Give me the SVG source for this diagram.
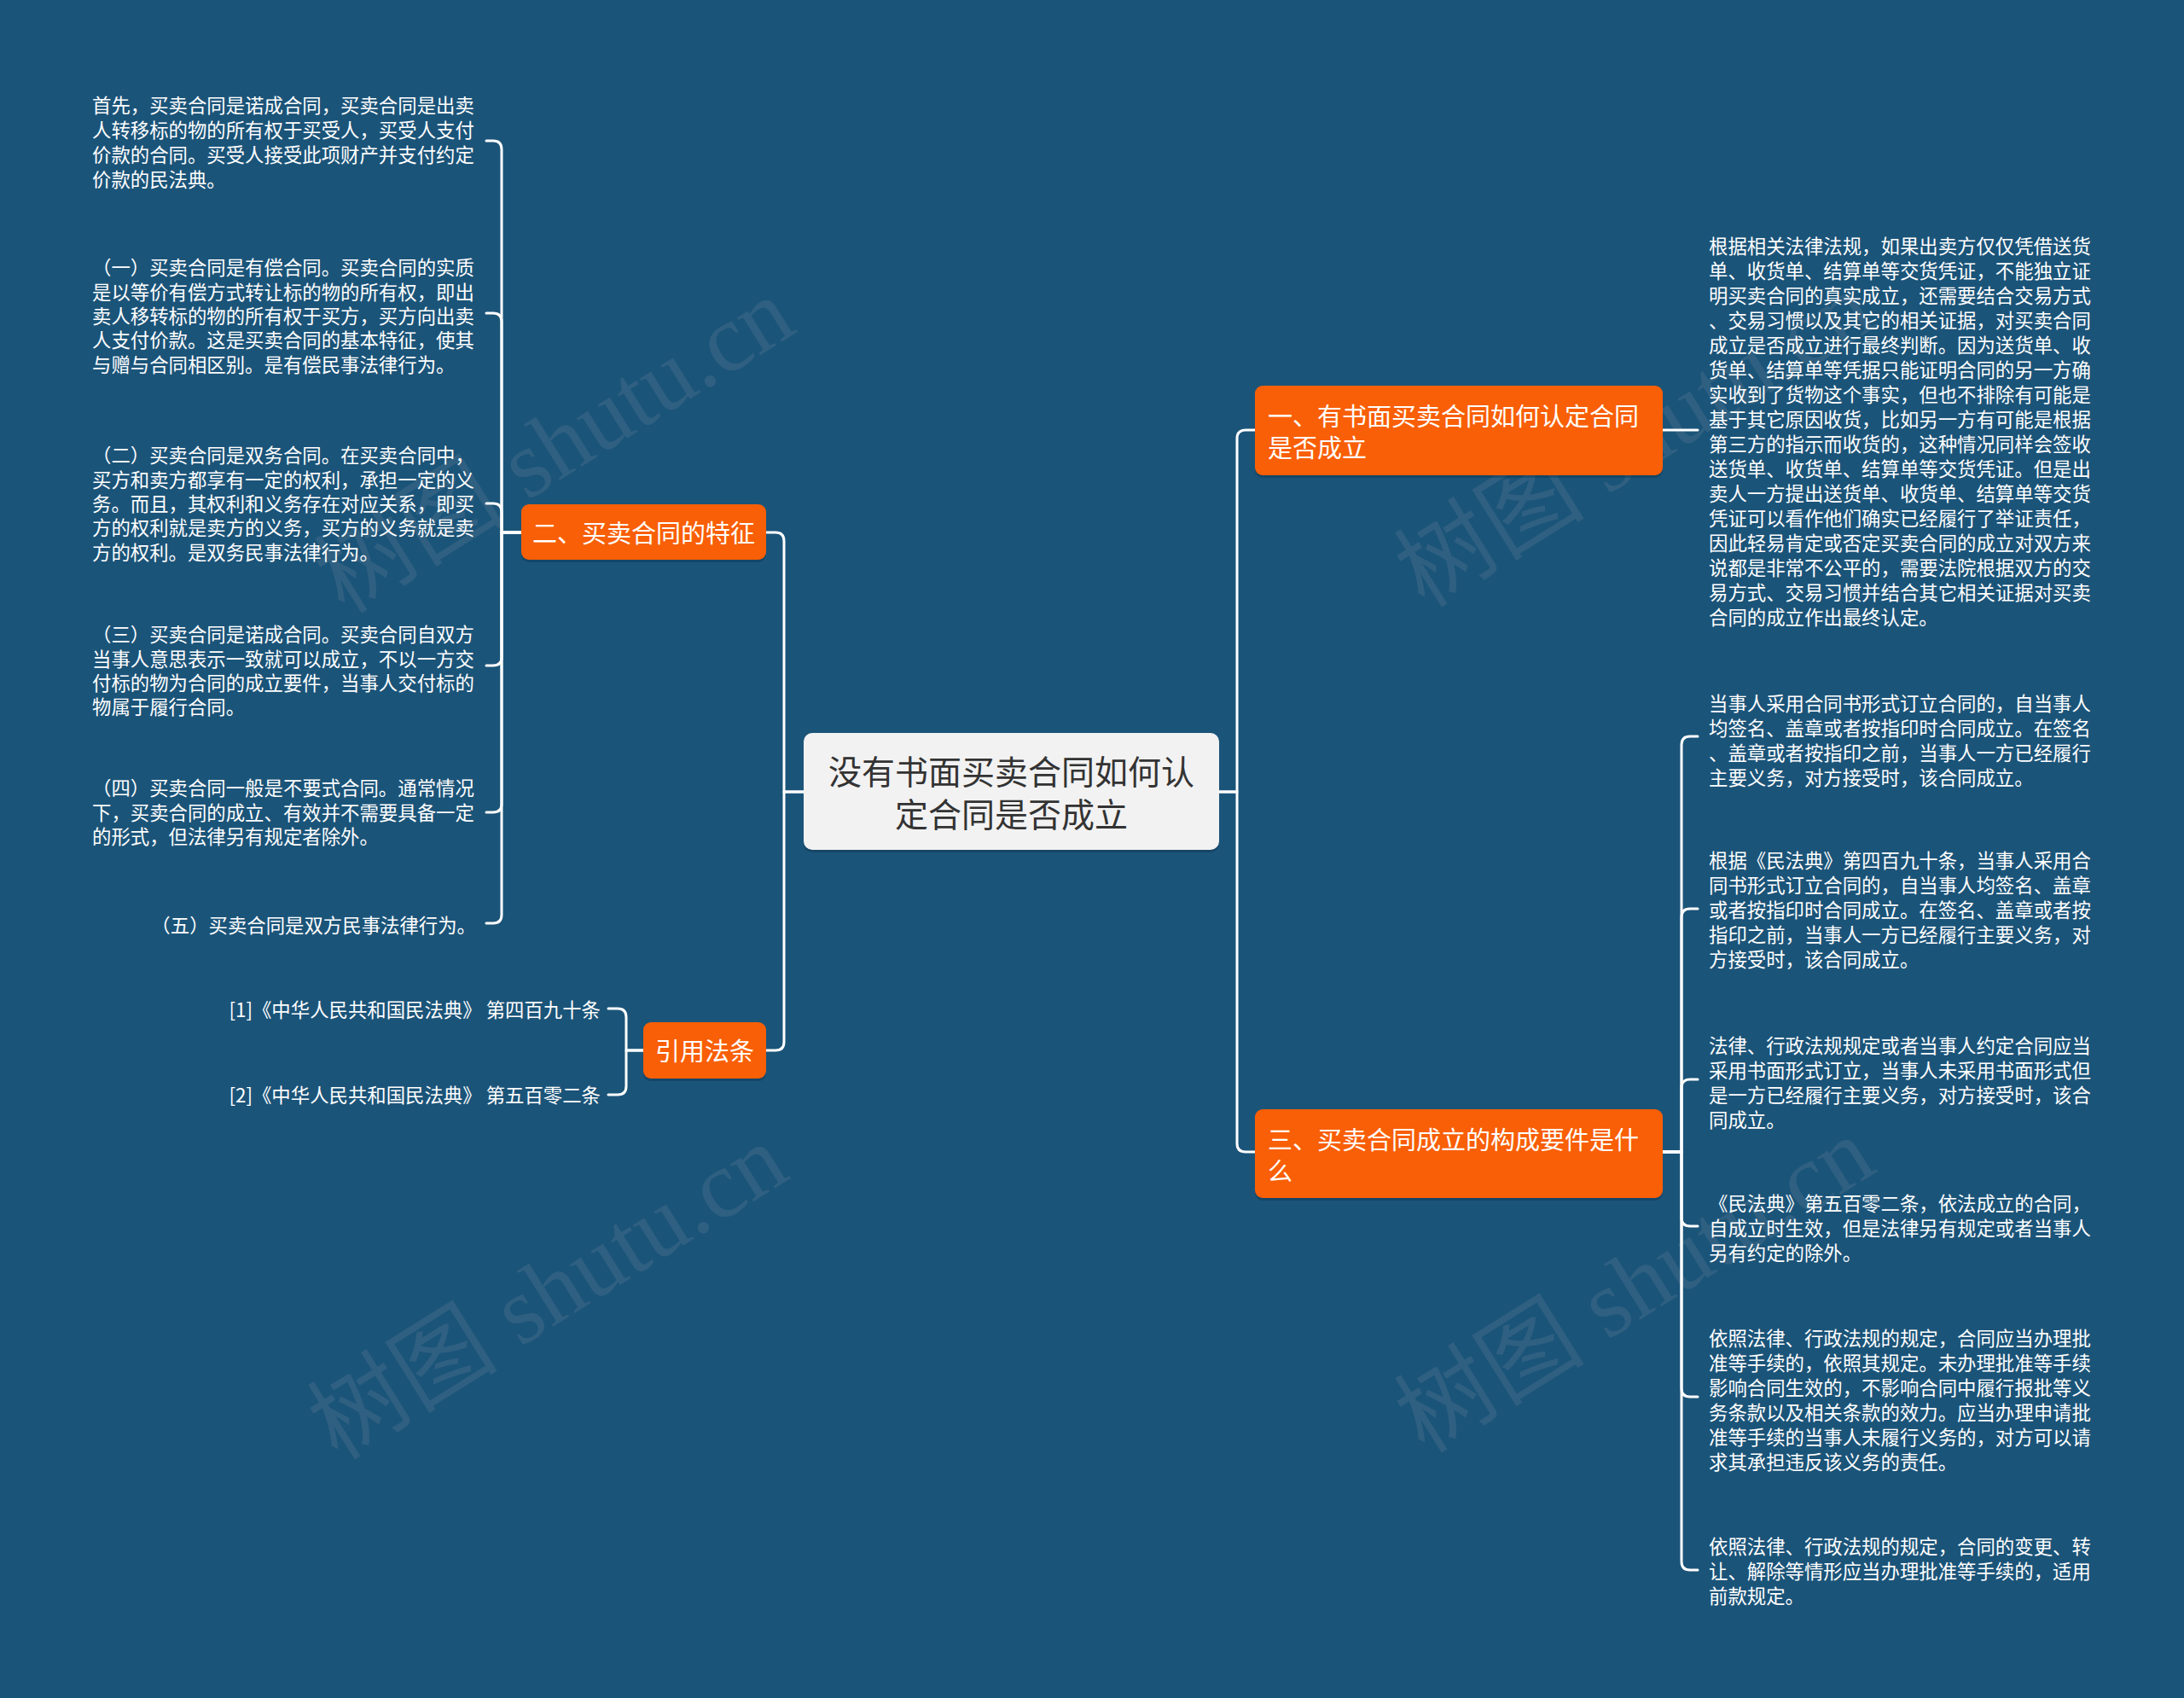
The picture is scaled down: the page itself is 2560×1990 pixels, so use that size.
<svg xmlns="http://www.w3.org/2000/svg" width="2560" height="1990" viewBox="0 0 2560 1990">
<defs>
<style>
.bg{fill:#1b5479}
.con{fill:none;stroke:#ffffff;stroke-width:3;stroke-linecap:round;stroke-linejoin:round}
.root{fill:#f2f2f2}
.br{fill:#f95f06}
.shadow{fill:#0c2f47;opacity:0.35}
.t{font-family:"Noto Sans CJK SC","Noto Sans",sans-serif;dominant-baseline:central}
.leaf{font-size:22.4px;fill:#ffffff}
.brt{font-size:29px;fill:#ffffff}
.roott{font-size:39px;fill:#333333;text-anchor:middle}
.wm{font-family:"Liberation Serif","Noto Sans CJK SC",serif;font-size:112px;fill:#9aa3ab;opacity:0.16}
</style>
</defs>
<rect class="bg" x="0" y="0" width="2560" height="1990"/>

<g id="watermarks">
<text class="wm" transform="translate(650,522) rotate(-32)" text-anchor="middle" dominant-baseline="central">树图 shutu.cn</text>
<text class="wm" transform="translate(642,1514) rotate(-32)" text-anchor="middle" dominant-baseline="central">树图 shutu.cn</text>
<text class="wm" transform="translate(1916,515) rotate(-32)" text-anchor="middle" dominant-baseline="central">树图 shutu.cn</text>
<text class="wm" transform="translate(1916,1506) rotate(-32)" text-anchor="middle" dominant-baseline="central">树图 shutu.cn</text>
</g>

<g id="connectors">
<path class="con" d="M942,928 H919 V634 Q919,624 909,624 H898"/>
<path class="con" d="M942,928 H919 V1221 Q919,1231 909,1231 H898"/>
<path class="con" d="M1429,928 H1450 V514 Q1450,504 1460,504 H1471"/>
<path class="con" d="M1429,928 H1450 V1340 Q1450,1350 1460,1350 H1471"/>
<path class="con" d="M611,624 H588 V175 Q588,165 578,165 H570"/>
<path class="con" d="M611,624 H588 V377 Q588,367 578,367 H570"/>
<path class="con" d="M611,624 H588 V600 Q588,590 578,590 H570"/>
<path class="con" d="M611,624 H588 V770 Q588,780 578,780 H570"/>
<path class="con" d="M611,624 H588 V942 Q588,952 578,952 H570"/>
<path class="con" d="M611,624 H588 V1072 Q588,1082 578,1082 H570"/>
<path class="con" d="M754,1231 H734 V1192 Q734,1182 724,1182 H713"/>
<path class="con" d="M754,1231 H734 V1273 Q734,1283 724,1283 H713"/>
<path class="con" d="M1949,504 H1990"/>
<path class="con" d="M1949,1350 H1971 V873 Q1971,863 1981,863 H1990"/>
<path class="con" d="M1949,1350 H1971 V1075 Q1971,1065 1981,1065 H1990"/>
<path class="con" d="M1949,1350 H1971 V1275 Q1971,1265 1981,1265 H1990"/>
<path class="con" d="M1949,1350 H1971 V1427 Q1971,1437 1981,1437 H1990"/>
<path class="con" d="M1949,1350 H1971 V1627 Q1971,1637 1981,1637 H1990"/>
<path class="con" d="M1949,1350 H1971 V1830 Q1971,1840 1981,1840 H1990"/>
</g>

<g id="root">
<rect class="shadow" x="942" y="862" width="487" height="137" rx="10"/>
<rect class="root" x="942" y="859" width="487" height="137" rx="10"/>
<text class="t roott" x="1185.5" y="902">没有书面买卖合同如何认</text>
<text class="t roott" x="1185.5" y="952">定合同是否成立</text>
</g>

<g id="branch1">
<rect class="shadow" x="1471" y="455" width="478" height="105" rx="9"/>
<rect class="br" x="1471" y="452" width="478" height="105" rx="9"/>
<text class="t brt" x="1486" y="486">一、有书面买卖合同如何认定合同</text>
<text class="t brt" x="1486" y="523">是否成立</text>
</g>

<g id="branch3">
<rect class="shadow" x="1471" y="1303" width="478" height="104" rx="9"/>
<rect class="br" x="1471" y="1300" width="478" height="104" rx="9"/>
<text class="t brt" x="1486" y="1334">三、买卖合同成立的构成要件是什</text>
<text class="t brt" x="1486" y="1371">么</text>
</g>

<g id="branch2">
<rect class="shadow" x="611" y="594" width="287" height="65" rx="9"/>
<rect class="br" x="611" y="591" width="287" height="65" rx="9"/>
<text class="t brt" x="754.5" y="623" text-anchor="middle">二、买卖合同的特征</text>
</g>

<g id="branch4">
<rect class="shadow" x="754" y="1201" width="144" height="66" rx="9"/>
<rect class="br" x="754" y="1198" width="144" height="66" rx="9"/>
<text class="t brt" x="826" y="1230" text-anchor="middle">引用法条</text>
</g>

<g id="leaf-1-1">
<text class="t leaf" x="2003" y="287">根据相关法律法规，如果出卖方仅仅凭借送货</text>
<text class="t leaf" x="2003" y="316">单、收货单、结算单等交货凭证，不能独立证</text>
<text class="t leaf" x="2003" y="345">明买卖合同的真实成立，还需要结合交易方式</text>
<text class="t leaf" x="2003" y="374">、交易习惯以及其它的相关证据，对买卖合同</text>
<text class="t leaf" x="2003" y="403">成立是否成立进行最终判断。因为送货单、收</text>
<text class="t leaf" x="2003" y="432">货单、结算单等凭据只能证明合同的另一方确</text>
<text class="t leaf" x="2003" y="461">实收到了货物这个事实，但也不排除有可能是</text>
<text class="t leaf" x="2003" y="490">基于其它原因收货，比如另一方有可能是根据</text>
<text class="t leaf" x="2003" y="519">第三方的指示而收货的，这种情况同样会签收</text>
<text class="t leaf" x="2003" y="548">送货单、收货单、结算单等交货凭证。但是出</text>
<text class="t leaf" x="2003" y="577">卖人一方提出送货单、收货单、结算单等交货</text>
<text class="t leaf" x="2003" y="606">凭证可以看作他们确实已经履行了举证责任，</text>
<text class="t leaf" x="2003" y="635">因此轻易肯定或否定买卖合同的成立对双方来</text>
<text class="t leaf" x="2003" y="664">说都是非常不公平的，需要法院根据双方的交</text>
<text class="t leaf" x="2003" y="693">易方式、交易习惯并结合其它相关证据对买卖</text>
<text class="t leaf" x="2003" y="722">合同的成立作出最终认定。</text>
</g>

<g id="leaf-3-1">
<text class="t leaf" x="2003" y="823">当事人采用合同书形式订立合同的，自当事人</text>
<text class="t leaf" x="2003" y="852">均签名、盖章或者按指印时合同成立。在签名</text>
<text class="t leaf" x="2003" y="881">、盖章或者按指印之前，当事人一方已经履行</text>
<text class="t leaf" x="2003" y="910">主要义务，对方接受时，该合同成立。</text>
</g>

<g id="leaf-3-2">
<text class="t leaf" x="2003" y="1007">根据《民法典》第四百九十条，当事人采用合</text>
<text class="t leaf" x="2003" y="1036">同书形式订立合同的，自当事人均签名、盖章</text>
<text class="t leaf" x="2003" y="1065">或者按指印时合同成立。在签名、盖章或者按</text>
<text class="t leaf" x="2003" y="1094">指印之前，当事人一方已经履行主要义务，对</text>
<text class="t leaf" x="2003" y="1123">方接受时，该合同成立。</text>
</g>

<g id="leaf-3-3">
<text class="t leaf" x="2003" y="1224">法律、行政法规规定或者当事人约定合同应当</text>
<text class="t leaf" x="2003" y="1253">采用书面形式订立，当事人未采用书面形式但</text>
<text class="t leaf" x="2003" y="1282">是一方已经履行主要义务，对方接受时，该合</text>
<text class="t leaf" x="2003" y="1311">同成立。</text>
</g>

<g id="leaf-3-4">
<text class="t leaf" x="2003" y="1409">《民法典》第五百零二条，依法成立的合同，</text>
<text class="t leaf" x="2003" y="1438">自成立时生效，但是法律另有规定或者当事人</text>
<text class="t leaf" x="2003" y="1467">另有约定的除外。</text>
</g>

<g id="leaf-3-5">
<text class="t leaf" x="2003" y="1567">依照法律、行政法规的规定，合同应当办理批</text>
<text class="t leaf" x="2003" y="1596">准等手续的，依照其规定。未办理批准等手续</text>
<text class="t leaf" x="2003" y="1625">影响合同生效的，不影响合同中履行报批等义</text>
<text class="t leaf" x="2003" y="1654">务条款以及相关条款的效力。应当办理申请批</text>
<text class="t leaf" x="2003" y="1683">准等手续的当事人未履行义务的，对方可以请</text>
<text class="t leaf" x="2003" y="1712">求其承担违反该义务的责任。</text>
</g>

<g id="leaf-3-6">
<text class="t leaf" x="2003" y="1811">依照法律、行政法规的规定，合同的变更、转</text>
<text class="t leaf" x="2003" y="1840">让、解除等情形应当办理批准等手续的，适用</text>
<text class="t leaf" x="2003" y="1869">前款规定。</text>
</g>

<g id="leaf-2-1">
<text class="t leaf" x="108" y="122">首先，买卖合同是诺成合同，买卖合同是出卖</text>
<text class="t leaf" x="108" y="151">人转移标的物的所有权于买受人，买受人支付</text>
<text class="t leaf" x="108" y="180">价款的合同。买受人接受此项财产并支付约定</text>
<text class="t leaf" x="108" y="209">价款的民法典。</text>
</g>

<g id="leaf-2-2">
<text class="t leaf" x="108" y="312">（一）买卖合同是有偿合同。买卖合同的实质</text>
<text class="t leaf" x="108" y="341">是以等价有偿方式转让标的物的所有权，即出</text>
<text class="t leaf" x="108" y="369">卖人移转标的物的所有权于买方，买方向出卖</text>
<text class="t leaf" x="108" y="397">人支付价款。这是买卖合同的基本特征，使其</text>
<text class="t leaf" x="108" y="426">与赠与合同相区别。是有偿民事法律行为。</text>
</g>

<g id="leaf-2-3">
<text class="t leaf" x="108" y="532">（二）买卖合同是双务合同。在买卖合同中，</text>
<text class="t leaf" x="108" y="561">买方和卖方都享有一定的权利，承担一定的义</text>
<text class="t leaf" x="108" y="589">务。而且，其权利和义务存在对应关系，即买</text>
<text class="t leaf" x="108" y="617">方的权利就是卖方的义务，买方的义务就是卖</text>
<text class="t leaf" x="108" y="646">方的权利。是双务民事法律行为。</text>
</g>

<g id="leaf-2-4">
<text class="t leaf" x="108" y="742">（三）买卖合同是诺成合同。买卖合同自双方</text>
<text class="t leaf" x="108" y="771">当事人意思表示一致就可以成立，不以一方交</text>
<text class="t leaf" x="108" y="799">付标的物为合同的成立要件，当事人交付标的</text>
<text class="t leaf" x="108" y="827">物属于履行合同。</text>
</g>

<g id="leaf-2-5">
<text class="t leaf" x="108" y="922">（四）买卖合同一般是不要式合同。通常情况</text>
<text class="t leaf" x="108" y="951">下，买卖合同的成立、有效并不需要具备一定</text>
<text class="t leaf" x="108" y="979">的形式，但法律另有规定者除外。</text>
</g>

<g id="leaf-2-6">
<text class="t leaf" x="558" y="1083" text-anchor="end">（五）买卖合同是双方民事法律行为。</text>
</g>

<g id="leaf-4-1">
<text class="t leaf" x="704" y="1182" text-anchor="end">[1]《中华人民共和国民法典》 第四百九十条</text>
</g>
<g id="leaf-4-2">
<text class="t leaf" x="704" y="1282" text-anchor="end">[2]《中华人民共和国民法典》 第五百零二条</text>
</g>
</svg>
